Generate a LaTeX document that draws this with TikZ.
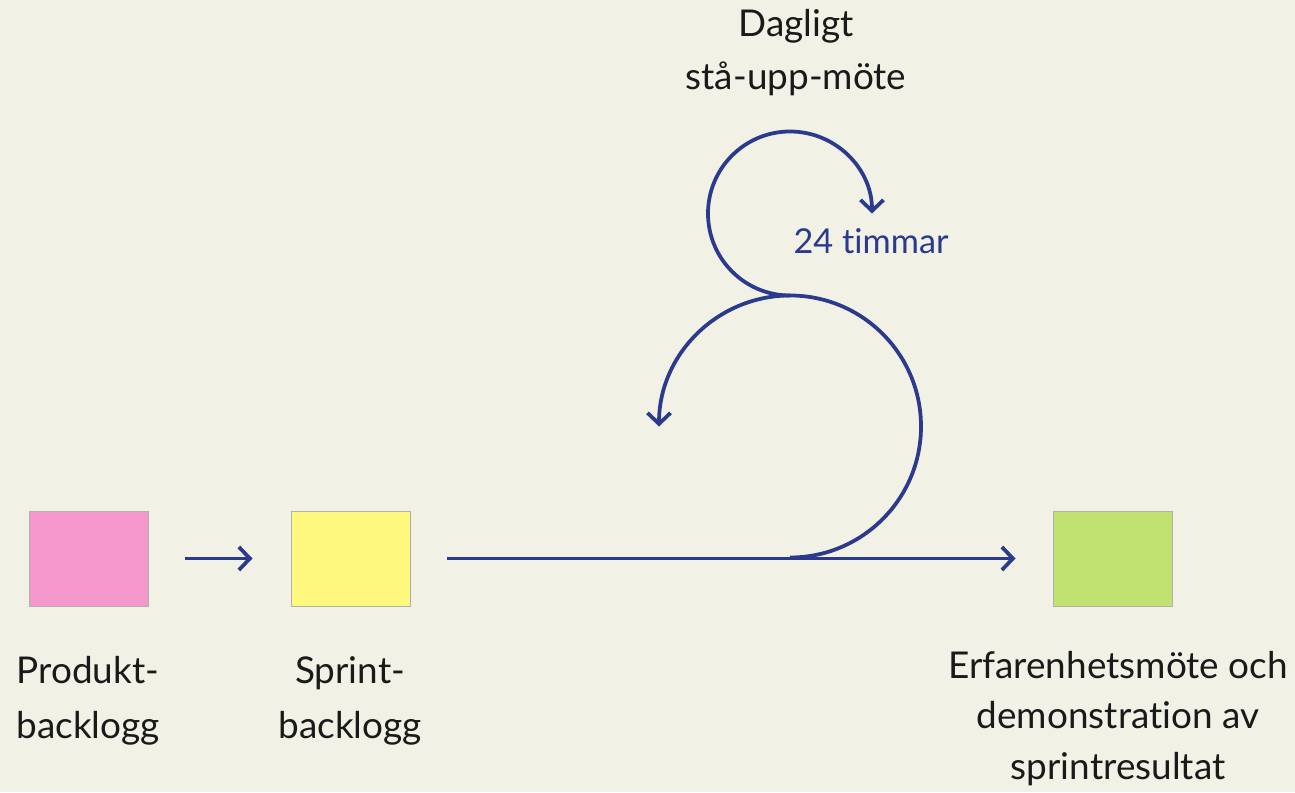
\documentclass[tikz,border=0pt]{standalone}
\usepackage{fontspec}
\setmainfont{Lato}[Ligatures=NoCommon]
\usepackage{tikz}
\usetikzlibrary{arrows.meta}
\usetikzlibrary{positioning}
\definecolor{paper}{HTML}{F2F1E6}
\definecolor{flowblue}{HTML}{2B3A8C}
\definecolor{cardedge}{HTML}{B0B0AC}
\definecolor{pinkcard}{HTML}{F497CD}
\definecolor{yellowcard}{HTML}{FFF87E}
\definecolor{greencard}{HTML}{C1E271}
\definecolor{ink}{HTML}{1A1A1A}

\begin{document}
\begin{tikzpicture}[line width=0.075cm,
  card/.style={draw=cardedge,line width=0.02cm,minimum width=2.38cm,minimum height=1.9cm,inner sep=0},
  flow/.style={draw=flowblue,-{Straight Barb[length=0.22cm,width=0.46cm]}},
  lbl/.style={align=center,text=ink,inner sep=0,anchor=base}]
\fill[paper] (0,0) rectangle (25.9,15.84);
\useasboundingbox (0,0) rectangle (25.9,15.84);

% the three backlogs / results
\node[card,fill=pinkcard] at (1.77,4.67) (pb){};
\node[card,fill=yellowcard] at ([xshift=5.24cm]pb) (sb){};
\node[card,fill=greencard] at (22.25,4.67) (res){};
\draw[flow,shorten <=0.72cm,shorten >=0.76cm] (pb.east) -- (sb.west);
\draw[flow,shorten <=0.72cm,shorten >=0.74cm] (sb.east) -- (res.west);

% sprint loop and daily loop
\coordinate (loop) at (15.8,4.69);
\coordinate (standup) at ([yshift=5.24cm]loop);
\draw[flow] (loop) arc[start angle=-90,end angle=180,radius=2.62cm];
\draw[flow] (standup) arc[start angle=-90,end angle=-360,radius=1.64cm];

% labels (base = last line)
\node[lbl,font=\fontsize{21}{31.3}\selectfont] at (1.76,1.08) (pbtext) {Produkt-\\backlogg};
\node[lbl,font=\fontsize{21}{31.3}\selectfont] at (7.0,1.08) (sbtext) {Sprint-\\backlogg};
\node[lbl,font=\fontsize{21}{28.5}\selectfont] at (22.36,0.26) (restext) {Erfarenhetsmöte och\\demonstration av\\sprintresultat};
\node[lbl,font=\fontsize{21}{30.7}\selectfont] at (15.92,14.04) (daily) {Dagligt\\stå-upp-möte};
\node[lbl,font=\fontsize{19.5}{22}\selectfont,text=flowblue] at (17.42,10.76) (hours) {24 timmar};
\end{tikzpicture}
\end{document}
